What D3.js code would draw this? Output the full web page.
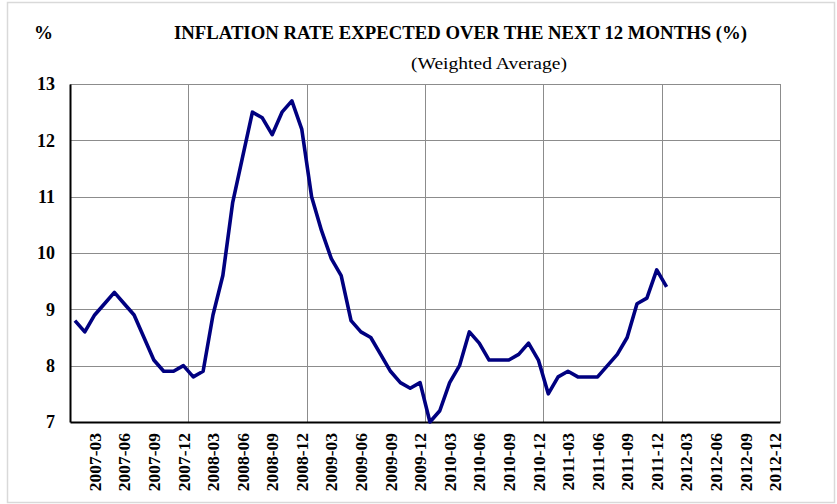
<!DOCTYPE html>
<html><head><meta charset="utf-8">
<script src="https://cdn.jsdelivr.net/npm/d3@7"></script>
<style>body{margin:0;background:#fff}svg{display:block}text{font-family:"Liberation Serif","Times New Roman",serif}</style>
</head><body><svg id="c" width="837" height="504"></svg>
<script>
const years = ["2007","2008","2009","2010","2011","2012"];
const months = ["01","02","03","04","05","06","07","08","09","10","11","12"];
const categories = years.flatMap(y => months.map(m => y + "-" + m));
const values2007 = [8.8, 8.6, 8.9, 9.1, 9.3, 9.1, 8.9, 8.5, 8.1, 7.9, 7.9, 8.0];
const values2008 = [7.8, 7.9, 8.9, 9.6, 10.9, 11.7, 12.5, 12.4, 12.1, 12.5, 12.7, 12.2];
const values2009 = [11.0, 10.4, 9.9, 9.6, 8.8, 8.6, 8.5, 8.2, 7.9, 7.7, 7.6, 7.7];
const values2010 = [7.0, 7.2, 7.7, 8.0, 8.6, 8.4, 8.1, 8.1, 8.1, 8.2, 8.4, 8.1];
const values2011 = [7.5, 7.8, 7.9, 7.8, 7.8, 7.8, 8.0, 8.2, 8.5, 9.1, 9.2, 9.7];
const values2012 = [9.4];
const yTicks = [7, 8, 9, 10, 11, 12, 13];
const title = "INFLATION RATE EXPECTED OVER THE NEXT 12 MONTHS (%)";
const subtitle = "(Weighted Average)";
const unit = "%";

const values = [].concat(values2007, values2008, values2009, values2010, values2011, values2012);
const data = categories.map((c, i) => ({cat: c, v: i < values.length ? values[i] : null}));

const svg = d3.select("#c");
const L = 70, R = 780, T = 84, B = 422;
const x = d3.scaleBand().domain(categories).range([L, R]).padding(0);
const y = d3.scaleLinear().domain([7, 13]).range([B, T]);

svg.append("rect").attr("x", 7.5).attr("y", 2.5).attr("width", 827).attr("height", 500)
  .attr("fill", "#fff").attr("stroke", "#d9d9d9").attr("stroke-width", 1.5);

const grid = svg.append("g").attr("stroke", "#8c8c8c").attr("stroke-width", 1);
grid.selectAll("line.h").data(yTicks.filter(t => t > 7)).join("line")
  .attr("x1", L).attr("x2", R).attr("y1", d => Math.round(y(d)) + 0.5).attr("y2", d => Math.round(y(d)) + 0.5);
const yearEnds = categories.filter(c => c.endsWith("-12"));
grid.selectAll("line.v").data(yearEnds).join("line")
  .attr("x1", d => Math.round(x(d) + x.bandwidth()) + 0.5).attr("x2", d => Math.round(x(d) + x.bandwidth()) + 0.5)
  .attr("y1", T).attr("y2", B);

// axes
const yAxis = d3.axisLeft(y).tickValues(yTicks).tickSize(0).tickPadding(15).tickFormat(d3.format("d"));
const gy = svg.append("g").attr("transform", `translate(${L},0)`).call(yAxis);
gy.select(".domain").attr("stroke", "#000").attr("stroke-width", 2);
gy.selectAll("text").attr("font-size", 18).attr("font-weight", "bold").attr("fill", "#000")
  .attr("font-family", "Liberation Serif, Times New Roman, serif");

const xAxis = d3.axisBottom(x).tickValues(categories.filter(c => /-(03|06|09|12)$/.test(c))).tickSize(0).tickPadding(0);
const gx = svg.append("g").attr("transform", `translate(0,${B})`).call(xAxis);
gx.select(".domain").attr("stroke", "#000").attr("stroke-width", 2);
gx.selectAll("text").attr("font-size", 17.5).attr("font-weight", "bold").attr("fill", "#000")
  .attr("font-family", "Liberation Serif, Times New Roman, serif")
  .attr("text-anchor", "end").attr("dy", "0.35em")
  .attr("transform", "translate(0,11) rotate(-90)").attr("x", 0).attr("y", 0);

// line
const line = d3.line().defined(d => d.v != null)
  .x(d => x(d.cat) + x.bandwidth() / 2).y(d => y(d.v));
svg.append("path").datum(data).attr("d", line).attr("fill", "none")
  .attr("stroke", "#000080").attr("stroke-width", 3.6).attr("stroke-linejoin", "round");

// texts
svg.append("text").attr("x", 43.5).attr("y", 39).attr("text-anchor", "middle")
  .attr("font-size", 19).attr("font-weight", "bold").text(unit);
svg.append("text").attr("x", 174).attr("y", 39).attr("font-size", 19).attr("font-weight", "bold")
  .attr("textLength", 573).attr("lengthAdjust", "spacingAndGlyphs").text(title);
svg.append("text").attr("x", 411).attr("y", 69).attr("font-size", 17.5)
  .attr("textLength", 156).attr("lengthAdjust", "spacingAndGlyphs").text(subtitle);
</script></body></html>
